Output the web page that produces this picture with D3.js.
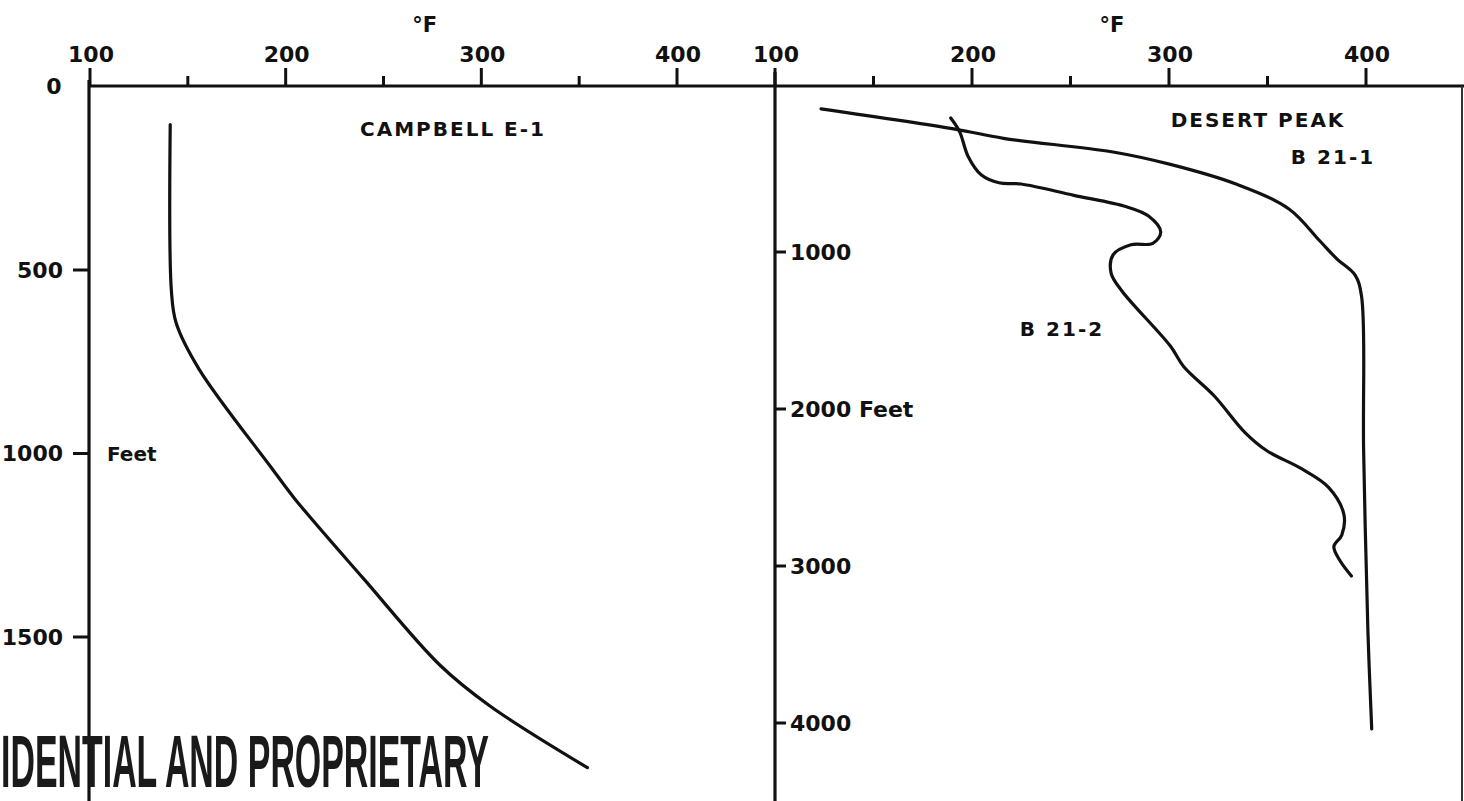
<!DOCTYPE html>
<html>
<head>
<meta charset="utf-8">
<script src="https://cdn.jsdelivr.net/npm/d3@7"></script>
<style>
  body { margin: 0; background: #fff; }
  svg { display: block; }
  text { font-family: "DejaVu Sans", sans-serif; font-weight: bold; fill: #111; }
</style>
</head>
<body>
<svg id="chart" width="1464" height="801"></svg>
<script>
// temperature ticks (deg F), same for both panels
var tempMajor = [100, 200, 300, 400];
var tempMinor = [150, 250, 350];

// depth ticks (feet)
var campDepthTicks = [500, 1000, 1500];
var peakDepthTicks = [1000, 2000, 3000, 4000];

// CAMPBELL E-1
var campTemp  = [141, 141.6, 144, 155.7, 192.9, 204.6, 239.8, 278.9, 304.4, 354.2];
var campDepth = [104, 557, 644, 770, 1040, 1123, 1341, 1577, 1688, 1856];

// DESERT PEAK B 21-1
var b211Temp  = [123.4, 191.4, 216, 271.6, 300.7, 334, 360.9, 376.6, 385.3, 394.4, 397.7, 398.8, 401, 402.9];
var b211Depth = [88, 217, 276, 363, 442, 567, 726, 930, 1045, 1146, 1279, 2266, 3427, 4038];

// DESERT PEAK B 21-2
var b212Temp  = [189.2, 193.7, 198.1, 204.8, 213.7, 224.9, 251.7, 278.4, 289.6, 295.8, 291.8, 280.7, 271.7, 270.6, 276.1,
                 300.7, 307.4, 323, 338.6, 349.7, 367.5, 381, 388.8, 387.7, 383.7, 386.6, 392.6];
var b212Depth = [146, 233, 393, 510, 559, 567, 639, 712, 771, 873, 945, 954, 1017, 1134, 1248,
                 1599, 1729, 1917, 2150, 2266, 2382, 2499, 2673, 2803, 2876, 2962, 3064];

const axisY = 86,
    lineW = 3.2;

var svg = d3.select('#chart');

// scales
var xLeft = d3.scaleLinear().domain([100, 400]).range([90, 677]);
var xRight = d3.scaleLinear().domain([100, 400]).range([775, 1366]);
var yLeft = d3.scaleLinear().domain([500, 1500]).range([270, 637]);
var yRight = d3.scaleLinear().domain([1000, 4000]).range([252, 723]);

function zip(a, b) {
    return a.map((d, i) => [d, b[i]]);
}

// TOP (TEMPERATURE) AXIS
function plotTempAxis(x) {
    let g = svg.append('g').attr('class', 'x axis');

    g.selectAll('line.major')
        .data(tempMajor)
        .enter().append('line')
        .attr('class', 'major')
        .attr('x1', d => x(d)).attr('x2', d => x(d))
        .attr('y1', axisY - 18).attr('y2', axisY)
        .attr('stroke', '#111').attr('stroke-width', 3);

    g.selectAll('line.minor')
        .data(tempMinor)
        .enter().append('line')
        .attr('class', 'minor')
        .attr('x1', d => x(d)).attr('x2', d => x(d))
        .attr('y1', axisY - 10).attr('y2', axisY)
        .attr('stroke', '#111').attr('stroke-width', 3);

    g.selectAll('text')
        .data(tempMajor)
        .enter().append('text')
        .attr('x', d => x(d) + 1)
        .attr('y', 62)
        .attr('text-anchor', 'middle')
        .style('font-size', '22px')
        .text(d => d);

    // deg F unit
    g.append('text')
        .attr('x', x(271))
        .attr('y', 32)
        .attr('text-anchor', 'middle')
        .style('font-size', '21px')
        .text('\u00B0F');
}

// top line across both panels
svg.append('line')
    .attr('x1', 88).attr('x2', 1464)
    .attr('y1', axisY).attr('y2', axisY)
    .attr('stroke', '#111').attr('stroke-width', lineW);

plotTempAxis(xLeft);
plotTempAxis(xRight);

// LEFT DEPTH AXIS (campbell)
svg.append('line')
    .attr('x1', 89).attr('x2', 89)
    .attr('y1', axisY - 6).attr('y2', 801)
    .attr('stroke', '#111').attr('stroke-width', lineW);

let leftAx = svg.append('g').attr('class', 'y axis left');
leftAx.selectAll('line')
    .data(campDepthTicks)
    .enter().append('line')
    .attr('x1', 73).attr('x2', 89)
    .attr('y1', d => yLeft(d)).attr('y2', d => yLeft(d))
    .attr('stroke', '#111').attr('stroke-width', 3);
leftAx.selectAll('text')
    .data(campDepthTicks)
    .enter().append('text')
    .attr('x', 63)
    .attr('y', d => yLeft(d))
    .attr('dy', '0.36em')
    .attr('text-anchor', 'end')
    .style('font-size', '22px')
    .text(d => d);
leftAx.append('text') // zero sits on the top line
    .attr('x', 54).attr('y', axisY)
    .attr('dy', '0.36em')
    .attr('text-anchor', 'middle')
    .style('font-size', '22px')
    .text('0');
leftAx.append('text')
    .attr('x', 107).attr('y', yLeft(1000))
    .attr('dy', '0.36em')
    .style('font-size', '20px')
    .text('Feet');

// RIGHT DEPTH AXIS (desert peak)
svg.append('line')
    .attr('x1', 775).attr('x2', 775)
    .attr('y1', axisY - 14).attr('y2', 801)
    .attr('stroke', '#111').attr('stroke-width', lineW);

let rightAx = svg.append('g').attr('class', 'y axis right');
rightAx.selectAll('line')
    .data(peakDepthTicks)
    .enter().append('line')
    .attr('x1', 775).attr('x2', 786)
    .attr('y1', d => yRight(d)).attr('y2', d => yRight(d))
    .attr('stroke', '#111').attr('stroke-width', 3);
rightAx.selectAll('text')
    .data(peakDepthTicks)
    .enter().append('text')
    .attr('x', 790)
    .attr('y', d => yRight(d))
    .attr('dy', '0.36em')
    .style('font-size', '22px')
    .text(d => d === 2000 ? '2000 Feet' : d);

// right frame edge
svg.append('line')
    .attr('x1', 1462).attr('x2', 1462)
    .attr('y1', axisY).attr('y2', 801)
    .attr('stroke', '#333').attr('stroke-width', 2);

// CURVES
function plotCurve(x, y, temps, depths) {
    let line = d3.line()
        .x(d => x(d[0]))
        .y(d => y(d[1]))
        .curve(d3.curveCatmullRom.alpha(0.5));
    svg.append('path')
        .datum(zip(temps, depths))
        .attr('d', line)
        .attr('fill', 'none')
        .attr('stroke', '#111')
        .attr('stroke-width', lineW)
        .attr('stroke-linecap', 'round')
        .attr('stroke-linejoin', 'round');
}

plotCurve(xLeft, yLeft, campTemp, campDepth);
plotCurve(xRight, yRight, b211Temp, b211Depth);
plotCurve(xRight, yRight, b212Temp, b212Depth);

// labels
function label(x, y, txt, size) {
    svg.append('text')
        .attr('x', x).attr('y', y)
        .attr('text-anchor', 'middle')
        .style('font-size', size + 'px')
        .style('letter-spacing', '2px')
        .text(txt);
}
label(453, 136, 'CAMPBELL E-1', 20);
label(1258, 127, 'DESERT PEAK', 20);
label(1333, 164, 'B 21-1', 20);
label(1062, 336, 'B 21-2', 20);

// the stamp across the bottom, as much of it as the scan shows
// squeezed sideways to look like the condensed stamp face
let stamp = svg.append('g');
let stampText = stamp.append('text')
    .attr('x', 0).attr('y', 0)
    .style('font-family', '"Liberation Sans", Arial, sans-serif')
    .style('font-size', '74px')
    .style('fill', '#1a1a1a')
    .text('IDENTIAL AND PROPRIETARY');
let natural = stampText.node().getComputedTextLength();
stamp.attr('transform', 'translate(1,787) scale(' + (488 / natural) + ',1)');
</script>
</body>
</html>
